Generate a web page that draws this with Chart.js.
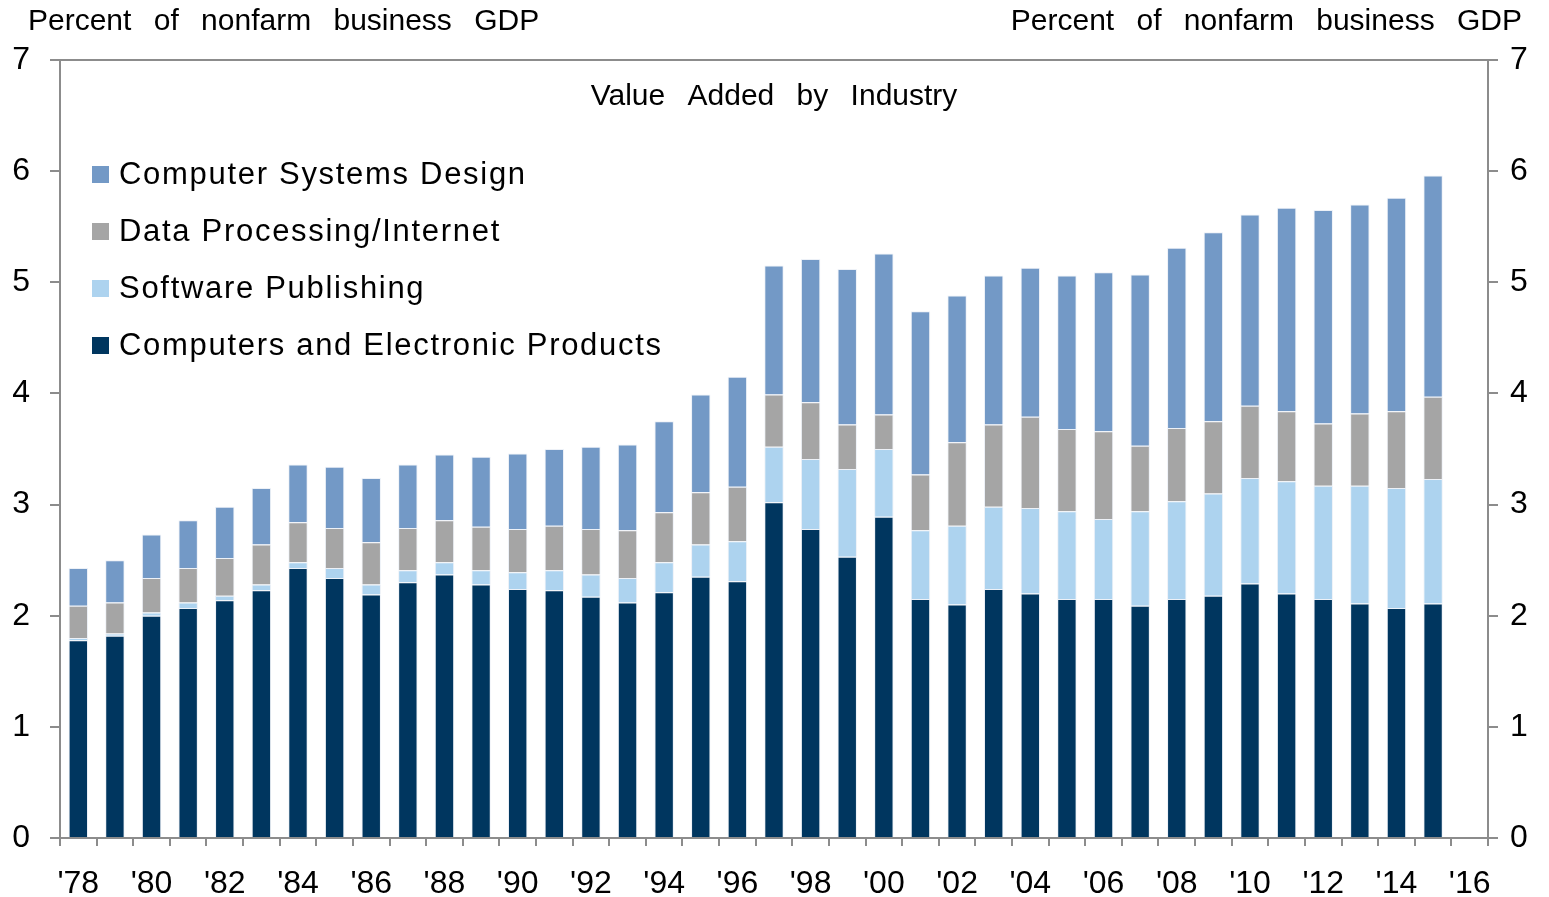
<!DOCTYPE html>
<html>
<head>
<meta charset="utf-8">
<script src="https://cdn.jsdelivr.net/npm/chart.js@4/dist/chart.umd.min.js"></script>
<style>
  html, body { margin: 0; padding: 0; background: #fff; }
  canvas { display: block; }
</style>
</head>
<body>
<canvas id="chart" width="1549" height="897"></canvas>
<script>
// Years on the axis (last slot is empty, as in the original)
const years = ["'78","'79","'80","'81","'82","'83","'84","'85","'86","'87","'88","'89",
  "'90","'91","'92","'93","'94","'95","'96","'97","'98","'99","'00","'01","'02","'03",
  "'04","'05","'06","'07","'08","'09","'10","'11","'12","'13","'14","'15","'16"];

// Percent of nonfarm business GDP, 1978-2015
const computersElectronics = [1.78,1.82,2.00,2.07,2.14,2.23,2.43,2.34,2.19,2.30,2.37,2.28,
  2.24,2.23,2.17,2.12,2.21,2.35,2.31,3.02,2.78,2.53,2.89,2.15,2.10,2.24,2.20,2.15,2.15,
  2.09,2.15,2.18,2.29,2.20,2.15,2.11,2.07,2.11];
const softwarePublishing = [0.02,0.02,0.03,0.05,0.04,0.05,0.05,0.09,0.09,0.11,0.11,0.13,
  0.15,0.18,0.20,0.22,0.27,0.29,0.36,0.50,0.63,0.79,0.61,0.62,0.71,0.74,0.77,0.79,0.72,
  0.85,0.88,0.92,0.95,1.01,1.02,1.06,1.08,1.12];
const dataProcessing = [0.29,0.28,0.31,0.31,0.34,0.36,0.36,0.36,0.38,0.38,0.38,0.39,
  0.39,0.40,0.41,0.43,0.45,0.47,0.49,0.47,0.51,0.40,0.31,0.50,0.75,0.74,0.82,0.74,0.79,
  0.59,0.66,0.65,0.65,0.63,0.56,0.65,0.69,0.74];
const systemsDesign = [0.34,0.38,0.39,0.43,0.46,0.51,0.52,0.55,0.58,0.57,0.59,0.63,
  0.68,0.69,0.74,0.77,0.82,0.88,0.99,1.16,1.29,1.40,1.45,1.47,1.32,1.34,1.34,1.38,1.43,
  1.54,1.62,1.70,1.72,1.83,1.92,1.88,1.92,1.99];

const axisColor = '#8c8c8c';
const fontFamily = '"Liberation Sans", Arial, sans-serif';

// Titles, frame and legend drawn inside the plot like the original
const decorations = {
  id: 'decorations',
  afterDraw(chart) {
    const { ctx, chartArea } = chart;
    ctx.save();

    // top frame line
    ctx.strokeStyle = axisColor;
    ctx.lineWidth = 2;
    ctx.beginPath();
    ctx.moveTo(chartArea.left, chartArea.top);
    ctx.lineTo(chartArea.right, chartArea.top);
    ctx.stroke();

    ctx.fillStyle = '#000';
    ctx.textBaseline = 'middle';

    // axis headings
    ctx.font = '30px ' + fontFamily;
    ctx.wordSpacing = '14px';
    ctx.textAlign = 'left';
    ctx.fillText('Percent of nonfarm business GDP', 28, 22);
    ctx.textAlign = 'right';
    ctx.fillText('Percent of nonfarm business GDP', 1522, 22);

    // chart title
    ctx.font = '30px ' + fontFamily;
    ctx.wordSpacing = '14px';
    ctx.textAlign = 'center';
    ctx.fillText('Value Added by Industry', (chartArea.left + chartArea.right) / 2, 97);

    // legend, top series first
    ctx.font = '31px ' + fontFamily;
    ctx.wordSpacing = '0px';
    ctx.letterSpacing = '1.7px';
    ctx.textAlign = 'left';
    const sets = chart.data.datasets.slice().reverse();
    sets.forEach((ds, i) => {
      const y = 174 + i * 57;
      ctx.fillStyle = ds.backgroundColor;
      ctx.fillRect(92, y - 8, 17, 17);
      ctx.fillStyle = '#000';
      ctx.fillText(ds.label, 119, y + 1);
    });
    ctx.restore();
  }
};

const tickFont = { family: fontFamily, size: 32 };

new Chart(document.getElementById('chart'), {
  type: 'bar',
  data: {
    labels: years,
    datasets: [
      { label: 'Computers and Electronic Products', data: computersElectronics, backgroundColor: '#00365F' },
      { label: 'Software Publishing', data: softwarePublishing, backgroundColor: '#ADD3EF' },
      { label: 'Data Processing/Internet', data: dataProcessing, backgroundColor: '#A5A5A5' },
      { label: 'Computer Systems Design', data: systemsDesign, backgroundColor: '#7399C6' }
    ].map(ds => Object.assign(ds, {
      borderColor: 'rgba(235,240,246,0.9)',
      borderWidth: 1,
      barPercentage: 0.53,
      categoryPercentage: 1
    }))
  },
  options: {
    responsive: false,
    animation: false,
    layout: { padding: { top: 60 } },
    plugins: {
      legend: { display: false },
      tooltip: { enabled: false }
    },
    scales: {
      x: {
        stacked: true,
        afterFit: s => { s.height = 59; },
        border: { color: axisColor, width: 2 },
        grid: { offset: true, drawOnChartArea: false, color: axisColor, lineWidth: 2, tickLength: 8 },
        ticks: {
          autoSkip: false,
          maxRotation: 0,
          padding: 19,
          color: '#000',
          font: tickFont,
          callback: (v, i) => (i % 2 === 0 ? years[i] : '')
        }
      },
      y: {
        stacked: true,
        min: 0,
        max: 7,
        afterFit: s => { s.width = 60; },
        border: { color: axisColor, width: 2 },
        grid: { drawOnChartArea: false, color: axisColor, lineWidth: 2, tickLength: 10 },
        ticks: { stepSize: 1, padding: 20, color: '#000', font: tickFont }
      },
      y2: {
        position: 'right',
        min: 0,
        max: 7,
        afterFit: s => { s.width = 61; },
        border: { color: axisColor, width: 2 },
        grid: { drawOnChartArea: false, color: axisColor, lineWidth: 2, tickLength: 10 },
        ticks: { stepSize: 1, padding: 12, color: '#000', font: tickFont }
      }
    }
  },
  plugins: [decorations]
});
</script>
</body>
</html>
